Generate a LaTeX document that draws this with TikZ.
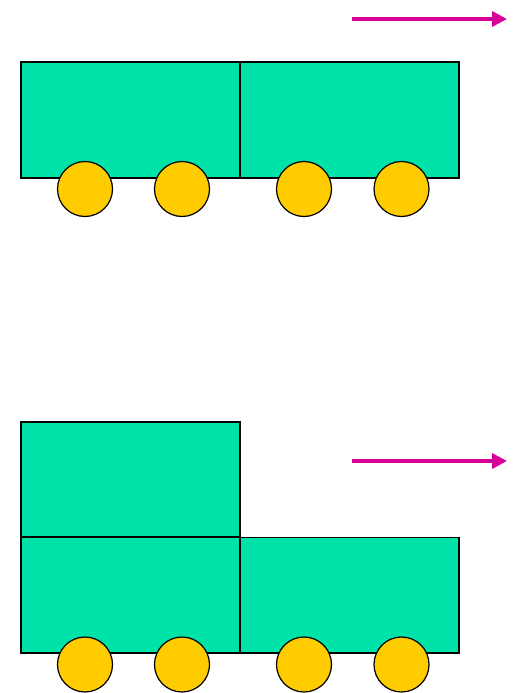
\documentclass[tikz,border=0pt]{standalone}
\usetikzlibrary{arrows.meta}
\definecolor{wagongreen}{RGB}{0,227,168}
\definecolor{wheelyellow}{RGB}{255,204,0}
\definecolor{arrowpink}{RGB}{214,0,150}
\tikzset{
  wagon/.style={draw, line width=1.2pt, fill=wagongreen, rectangle, inner sep=0pt, outer sep=0pt, minimum width=219pt},
  wheel/.style={draw, line width=1.2pt, fill=wheelyellow, circle, inner sep=0pt, outer sep=0pt, minimum size=55pt},
  push/.style={arrowpink, line width=3.5pt, -{Triangle[length=15pt, width=15pt]}}
}
\begin{document}
\begin{tikzpicture}[x=1pt, y=-1pt]
          \useasboundingbox (0,0) rectangle (518,693);

          % train du haut
          \node[wagon, minimum height=116pt] at (130.5,120) (a1) {};
          \node[wagon, minimum height=116pt] at (349.5,120) (a2) {};
          \node[wheel] at ( 85,189) (r1) {};
          \node[wheel] at (182,189) (r2) {};
          \node[wheel] at (304,189) (r3) {};
          \node[wheel] at (401.5,189) (r4) {};
          \coordinate (p1) at (352,19);
          \coordinate (q1) at (507,19);
          \draw[push] (p1) -- (q1);

          % train du bas
          \node[wagon, minimum height=115pt] at (130.5,479.5) (b0) {};
          \node[wagon, minimum height=116pt] at (130.5,595) (b1) {};
          \node[wagon, minimum height=115.5pt] at (349.5,595.25) (b2) {};
          \node[wheel] at ( 85,664.5) (s1) {};
          \node[wheel] at (182,664.5) (s2) {};
          \node[wheel] at (304,664.5) (s3) {};
          \node[wheel] at (401.5,664.5) (s4) {};
          \coordinate (p2) at (352,461);
          \coordinate (q2) at (507,461);
          \draw[push] (p2) -- (q2);

        \end{tikzpicture}
\end{document}
